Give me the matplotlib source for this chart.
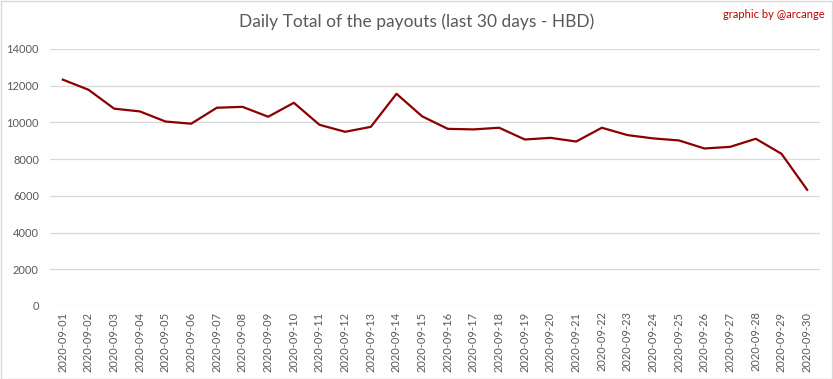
import matplotlib.pyplot as plt
from matplotlib.patches import Rectangle

dates = ["2020-09-%02d" % d for d in range(1, 31)]
payouts = [12330, 11780, 10750, 10600, 10050, 9930, 10800, 10850, 10310, 11070,
           9870, 9490, 9760, 11560, 10330, 9650, 9620, 9710, 9070, 9160,
           8960, 9710, 9310, 9130, 9020, 8580, 8670, 9110, 8290, 6330]

plt.rcParams['font.family'] = ['Lato', 'DejaVu Sans']

fig = plt.figure(figsize=(8.33, 3.79), dpi=100)
ax = fig.add_axes([50 / 833, 73 / 379, 770 / 833, 257 / 379])

x = range(len(dates))
ax.plot(x, payouts, color='#8b0000', linewidth=1.6)

ax.set_xlim(-0.5, len(dates) - 0.5)
ax.set_ylim(0, 14000)
ax.set_yticks(range(0, 14001, 2000))
ax.set_xticks(list(x))
ax.set_xticklabels(dates, rotation=90, fontsize=8, color='#595959')
ax.tick_params(axis='y', labelsize=8, labelcolor='#595959', length=0, pad=8)
ax.tick_params(axis='x', length=0, pad=4)
ax.grid(axis='y', color='#d9d9d9', linewidth=0.9)
ax.set_axisbelow(True)
for s in ax.spines.values():
    s.set_visible(False)

fig.text(0.5, 1 - 22 / 379, 'Daily Total of the payouts (last 30 days - HBD)',
         ha='center', va='center', fontsize=12.5, color='#595959')
fig.text(1 - 8 / 833, 1 - 15 / 379, 'graphic by @arcange', ha='right', va='center',
         fontsize=8, color='#c00000')

fig.patches.append(Rectangle((0.5 / 833, 0.5 / 379), 1 - 1.5 / 833, 1 - 1.5 / 379,
                             transform=fig.transFigure, fill=False,
                             edgecolor='#d9d9d9', linewidth=1))

fig.savefig('out.png', dpi=100)
